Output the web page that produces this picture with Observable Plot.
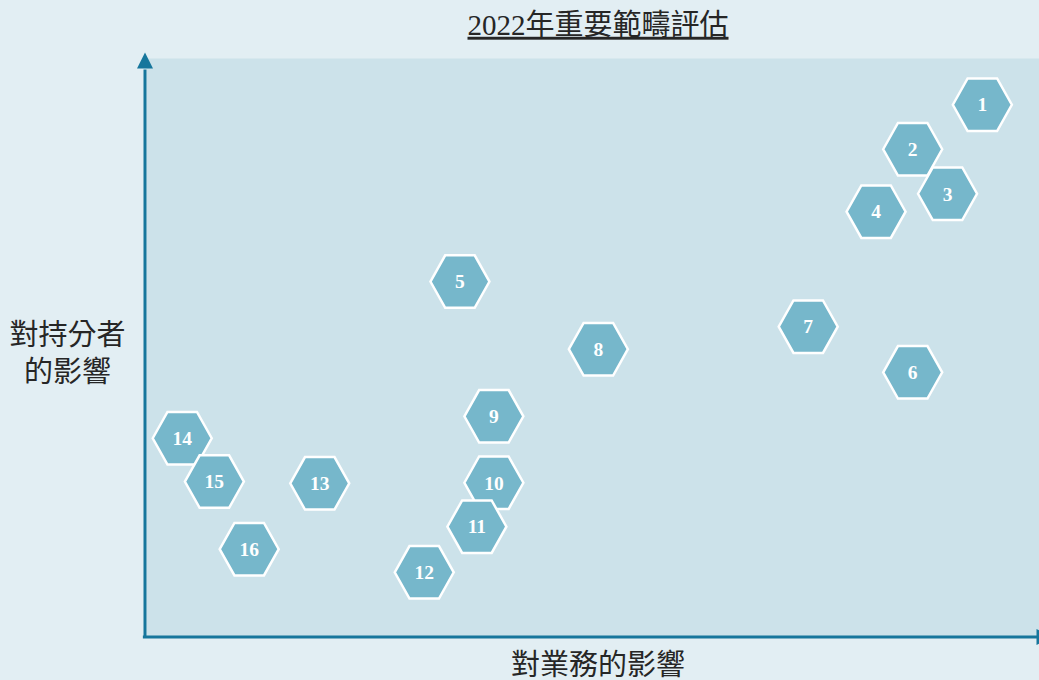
<!DOCTYPE html>
<html>
<head>
<meta charset="utf-8">
<script src="https://cdn.jsdelivr.net/npm/d3@7"></script>
<script src="https://cdn.jsdelivr.net/npm/@observablehq/plot@0.6"></script>
<style>
  html, body { margin: 0; padding: 0; background: #e2eef3; }
  #chart { width: 1039px; height: 680px; }
</style>
</head>
<body>
<div id="chart"></div>
<script>
const ids = ["1","2","3","4","5","6","7","8","9","10","11","12","13","14","15","16"];
const impactBusiness = [93.6, 85.8, 89.7, 81.7, 35.1, 85.8, 74.1, 50.6, 38.9, 38.9, 37.0, 31.1, 19.4, 4.0, 7.6, 11.5];
const impactStakeholders = [92.0, 84.3, 76.6, 73.5, 61.4, 45.7, 53.6, 49.7, 38.1, 26.6, 19.0, 11.1, 26.5, 34.3, 26.8, 15.1];
const titleText = "2022年重要範疇評估";
const xLabel = "對業務的影響";
const yLabel = "對持分者\n的影響";

const data = ids.map((id, i) => ({id, x: impactBusiness[i], y: impactStakeholders[i]}));

const hexagon = {
  draw(ctx, size) {
    const r = Math.sqrt(size / Math.PI);
    const h = r * 0.89;
    ctx.moveTo(-r, 0);
    ctx.lineTo(-r / 2, -h);
    ctx.lineTo(r / 2, -h);
    ctx.lineTo(r, 0);
    ctx.lineTo(r / 2, h);
    ctx.lineTo(-r / 2, h);
    ctx.closePath();
  }
};
const arrowUp = { draw(ctx) { ctx.moveTo(0, -16); ctx.lineTo(8, 0); ctx.lineTo(-8, 0); ctx.closePath(); } };
const arrowRight = { draw(ctx) { ctx.moveTo(16, 0); ctx.lineTo(0, -8); ctx.lineTo(0, 8); ctx.closePath(); } };

const axisColor = "#16769c";
const cjk = "'Liberation Serif', 'Noto Sans CJK TC', serif";
const labelColor = "#262626";

const chart = Plot.plot({
  width: 1039,
  height: 680,
  marginTop: 58,
  marginBottom: 44,
  marginLeft: 146,
  marginRight: 0,
  x: {domain: [0, 100], axis: null},
  y: {domain: [0, 100], axis: null},
  style: {background: "#e2eef3", fontFamily: cjk, overflow: "visible"},
  marks: [
    Plot.frame({fill: "#cce2ea", stroke: "none"}),
    Plot.ruleY([0], {x1: -0.35, x2: 99.8, stroke: axisColor, strokeWidth: 3, dy: 0.5}),
    Plot.ruleX([0], {y1: -0.35, y2: 98, stroke: axisColor, strokeWidth: 3, dx: -1.5}),
    Plot.dot([0], {x: 0, y: 100, symbol: arrowUp, fill: axisColor, stroke: "none", dx: -1.5, dy: 10}),
    Plot.dot([0], {x: 100, y: 0, symbol: arrowRight, fill: axisColor, stroke: "none", dx: -3, dy: 0.5}),
    Plot.dot(data, {x: "x", y: "y", symbol: hexagon, r: 29.5, fill: "#76b7cb", stroke: "white", strokeWidth: 2.5}),
    Plot.text(data, {x: "x", y: "y", text: "id", fill: "white", fontSize: 19.5, fontWeight: "bold", fontFamily: "'Liberation Serif', serif", dy: 0.5}),
    Plot.text([titleText], {frameAnchor: "top", lineAnchor: "middle", textAnchor: "middle", dx: 5, dy: -33, fontSize: 29, fill: labelColor}),
    Plot.text([xLabel], {frameAnchor: "bottom", lineAnchor: "middle", textAnchor: "middle", dx: 5, dy: 29, fontSize: 29, fill: labelColor}),
    Plot.text([yLabel], {frameAnchor: "left", lineAnchor: "middle", textAnchor: "middle", dx: -79, dy: 4.5, fontSize: 29, fill: labelColor, lineHeight: 1.28})
  ]
});
chart.querySelectorAll("text").forEach(t => {
  if (t.textContent === titleText) {
    t.setAttribute("text-decoration", "underline");
    t.style.textDecoration = "underline";
    t.style.textDecorationThickness = "3px";
    t.style.textUnderlineOffset = "6px";
  }
});
document.getElementById("chart").appendChild(chart);
</script>
</body>
</html>
